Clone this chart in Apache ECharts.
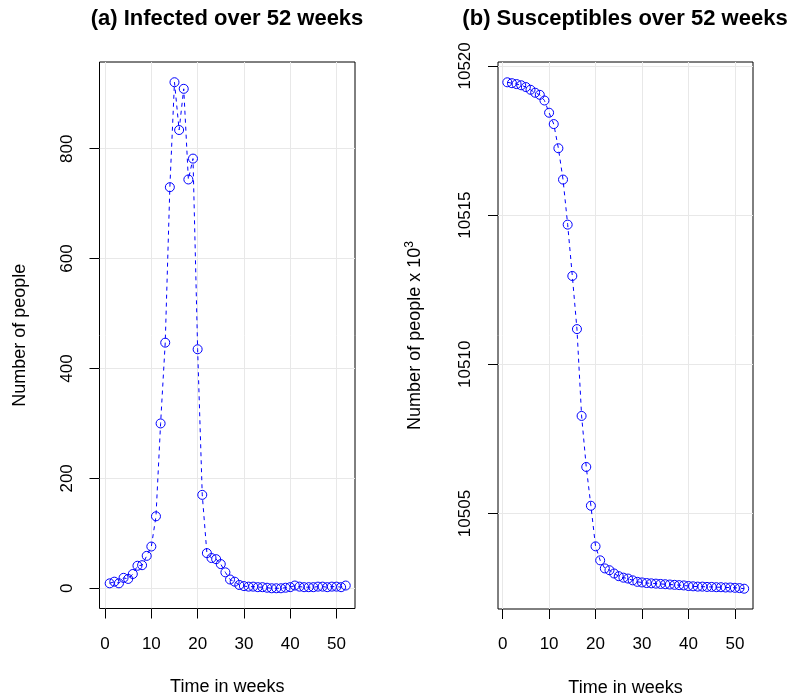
<!DOCTYPE html>
<html><head><meta charset="utf-8">
<script src="https://cdn.jsdelivr.net/npm/echarts@6/dist/echarts.min.js"></script>
<style>html,body{margin:0;padding:0;background:#fff}#c{width:792px;height:695px}</style>
</head><body><div id="c"></div>
<script>
const weeks = [1,2,3,4,5,6,7,8,9,10,11,12,13,14,15,16,17,18,19,20,21,22,23,24,25,26,27,28,29,30,31,32,33,34,35,36,37,38,39,40,41,42,43,44,45,46,47,48,49,50,51,52];
const infected = [9,12,9,19,17,26,41,42,59,76,131,300,447,730,921,834,909,744,782,435,170,64,55,53,44,29,16,12,6,4,3,3,2,2,1,0,0,0,1,2,5,3,2,2,2,3,3,2,3,3,2,5];
const susceptibles = [10519.45,10519.42,10519.39,10519.35,10519.29,10519.20,10519.10,10519.03,10518.84,10518.43,10518.05,10517.24,10516.19,10514.68,10512.96,10511.18,10508.27,10506.56,10505.26,10503.90,10503.43,10503.16,10503.10,10502.99,10502.90,10502.85,10502.82,10502.76,10502.71,10502.69,10502.67,10502.66,10502.65,10502.64,10502.63,10502.62,10502.61,10502.60,10502.59,10502.57,10502.56,10502.55,10502.55,10502.54,10502.54,10502.53,10502.53,10502.52,10502.52,10502.51,10502.50,10502.48];
const xTicks = [0,10,20,30,40,50];
const infTicks = [0,200,400,600,800];
const susTicks = [10505,10510,10515,10520];

const FONT = "'Liberation Sans', Arial, Helvetica, sans-serif";
const chart = echarts.init(document.getElementById('c'), null, {renderer:'canvas'});
const plain = v => String(v);

function xAxis(gi, min, max) {
  return {
    type:'value', gridIndex:gi, min:min, max:max,
    axisLine:{show:false,onZero:false},
    axisTick:{show:true,length:10,lineStyle:{color:'#000',width:1},customValues:xTicks},
    axisLabel:{color:'#000',fontSize:17,fontFamily:FONT,margin:27,customValues:xTicks,formatter:plain},
    splitLine:{show:true,lineStyle:{color:'#e8e8e8',width:1}},
    name:'Time in weeks', nameLocation:'middle', nameGap:70,
    nameTextStyle:{color:'#000',fontSize:18,fontFamily:FONT}
  };
}
function yAxis(gi, min, max, ticks, name, gap) {
  return {
    type:'value', gridIndex:gi, min:min, max:max,
    axisLine:{show:false,onZero:false},
    axisTick:{show:true,length:10,lineStyle:{color:'#000',width:1},customValues:ticks},
    axisLabel:{color:'#000',fontSize:17,fontFamily:FONT,margin:24,rotate:90,customValues:ticks,formatter:plain},
    splitLine:{show:true,lineStyle:{color:'#e8e8e8',width:1}},
    name:name, nameLocation:'middle', nameGap:gap, nameRotate:90,
    nameTextStyle:{color:'#000',fontSize:18,fontFamily:FONT,
      rich:{a:{fontSize:18,fontFamily:FONT,color:'#000',lineHeight:22},
            s:{fontSize:12,fontFamily:FONT,color:'#000',verticalAlign:'top',lineHeight:12}}}
  };
}
function series(xi, ys) {
  return {
    type:'line', xAxisIndex:xi, yAxisIndex:xi,
    data: weeks.map((w,i)=>[w, ys[i]]),
    symbol:'circle', symbolSize:9, showSymbol:true,
    itemStyle:{color:'rgba(0,0,0,0)', borderColor:'#0000ff', borderWidth:1},
    lineStyle:{color:'#0000ff', width:1, type:[4,4]},
    emphasis:{disabled:true}, animation:false, z:3
  };
}

chart.setOption({
  animation:false,
  backgroundColor:'#fff',
  grid:[
    {left:99.5, right:437, top:62, bottom:86.5, show:true, borderColor:'#000', borderWidth:1, backgroundColor:'transparent', containLabel:false, outerBoundsMode:'none'},
    {left:498, right:39, top:62, bottom:86, show:true, borderColor:'#000', borderWidth:1, backgroundColor:'transparent', containLabel:false, outerBoundsMode:'none'}
  ],
  xAxis:[xAxis(0,-1.2,54), xAxis(1,-1.0,53.9)],
  yAxis:[
    yAxis(0,-36.8,957.8,infTicks,'Number of people',70),
    yAxis(1,10501.8,10520.13,susTicks,'{a|Number of people x 10}{s|3}',72)
  ],
  series:[series(0,infected), series(1,susceptibles)],
  graphic:[
    {type:'text', x:227, y:19, style:{text:'(a) Infected over 52 weeks', font:"bold 22px "+FONT, fill:'#000', align:'center', verticalAlign:'middle'}},
    {type:'text', x:625, y:19, style:{text:'(b) Susceptibles over 52 weeks', font:"bold 22px "+FONT, fill:'#000', align:'center', verticalAlign:'middle'}}
  ]
});
</script>
</body></html>
